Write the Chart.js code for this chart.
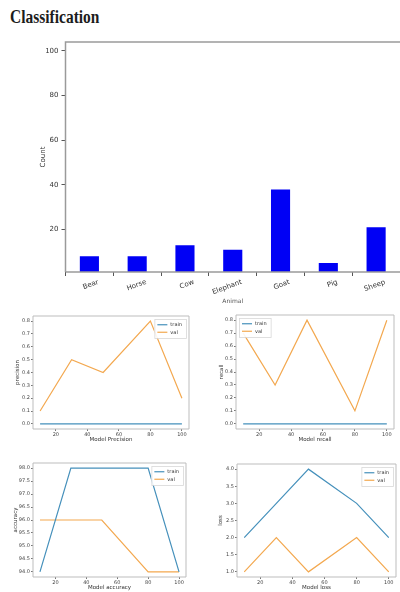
<!DOCTYPE html>
<html><head><meta charset="utf-8">
<script src="https://cdn.jsdelivr.net/npm/chart.js@4/dist/chart.umd.min.js"></script>
<style>
html,body{margin:0;padding:0;background:#fff;width:400px;height:592px;overflow:hidden;position:relative}
#title{position:absolute;left:10px;top:8px;font-family:"Liberation Serif",serif;font-weight:bold;font-size:18px;line-height:18px;color:#1c1c1c;white-space:nowrap;transform:scaleX(0.86);transform-origin:0 0}
canvas{position:absolute}
</style></head><body>
<div id="title">Classification</div>
<canvas id="bar" width="400" height="280" style="left:0;top:30px"></canvas>
<canvas id="c1" width="200" height="150" style="left:0;top:300px"></canvas>
<canvas id="c2" width="200" height="150" style="left:200px;top:300px"></canvas>
<canvas id="c3" width="200" height="142" style="left:0;top:450px"></canvas>
<canvas id="c4" width="200" height="142" style="left:200px;top:450px"></canvas>
<script>
// ---- data ----
const animals = ['Bear','Horse','Cow','Elephant','Goat','Pig','Sheep'];
const counts = [8, 8, 13, 11, 38, 5, 21];
const countTicks = [20, 40, 60, 80, 100];

const epochs = [10, 30, 50, 80, 100];
const epochTicks = [20, 40, 60, 80, 100];

const precisionTrain = [0, 0, 0, 0, 0];
const precisionVal = [0.1, 0.5, 0.4, 0.8, 0.2];
const recallTrain = [0, 0, 0, 0, 0];
const recallVal = [0.7, 0.3, 0.8, 0.1, 0.8];
const accuracyTrain = [94, 98, 98, 98, 94];
const accuracyVal = [96, 96, 96, 94, 94];
const lossTrain = [2, 3, 4, 3, 2];
const lossVal = [1, 2, 1, 2, 1];

const ratioTicks = [0, 0.1, 0.2, 0.3, 0.4, 0.5, 0.6, 0.7, 0.8];
const accuracyTicks = [94, 94.5, 95, 95.5, 96, 96.5, 97, 97.5, 98];
const lossTicks = [1, 1.5, 2, 2.5, 3, 3.5, 4];

// ---- styling ----
const TRAIN = '#4590bb';
const VAL = '#f3a84f';
const FONT = '"DejaVu Sans", sans-serif';
Chart.defaults.font.family = FONT;

const framePlugin = {
  id: 'frame',
  afterDatasetsDraw(chart, args, opts) {
    const a = chart.chartArea, ctx = chart.ctx;
    ctx.save();
    ctx.strokeStyle = opts.color || '#bbb';
    ctx.lineWidth = opts.width || 1;
    ctx.beginPath();
    ctx.moveTo(a.left, a.bottom);
    ctx.lineTo(a.left, a.top);
    ctx.lineTo(a.right, a.top);
    if (opts.right !== false) ctx.lineTo(a.right, a.bottom);
    ctx.moveTo(a.left, a.bottom);
    ctx.lineTo(a.right, a.bottom);
    ctx.stroke();
    ctx.restore();
  }
};

const legendPlugin = {
  id: 'insideLegend',
  afterDraw(chart, args, opts) {
    if (!opts || !opts.corner) return;
    const ctx = chart.ctx, a = chart.chartArea, ds = chart.data.datasets;
    const size = opts.size || 5;
    ctx.save();
    ctx.font = size + 'px ' + FONT;
    const lh = size * 1.5, sw = 10;
    const tw = Math.max(...ds.map(d => ctx.measureText(d.label).width));
    const w = 3 + sw + 3 + tw + 4, h = ds.length * lh + 4;
    const x = opts.corner === 'ne' ? a.right - 3 - w : a.left + 3;
    const y = a.top + 3;
    ctx.fillStyle = 'rgba(255,255,255,0.9)';
    ctx.fillRect(x, y, w, h);
    ctx.strokeStyle = '#d8d8d8';
    ctx.lineWidth = 0.8;
    ctx.strokeRect(x + 0.5, y + 0.5, w, h);
    ds.forEach((d, i) => {
      const cy = y + 2 + lh * (i + 0.5);
      ctx.strokeStyle = d.borderColor;
      ctx.lineWidth = d.borderWidth;
      ctx.beginPath();
      ctx.moveTo(x + 3, cy);
      ctx.lineTo(x + 3 + sw, cy);
      ctx.stroke();
      ctx.fillStyle = '#333';
      ctx.textBaseline = 'middle';
      ctx.fillText(d.label, x + 6 + sw, cy);
    });
    ctx.restore();
  }
};

// ---- bar chart ----
new Chart(document.getElementById('bar'), {
  type: 'bar',
  data: {
    labels: animals,
    datasets: [{ data: counts, backgroundColor: '#0000f5', barPercentage: 0.4, categoryPercentage: 1 }]
  },
  options: {
    responsive: false, animation: false, devicePixelRatio: 1,
    layout: { padding: { left: 39, right: 0, top: 12, bottom: 5 } },
    plugins: { legend: { display: false }, tooltip: { enabled: false }, frame: { color: '#9a9a9a', width: 1.5, right: false } },
    scales: {
      x: {
        grid: { drawOnChartArea: false, drawTicks: true, tickLength: 4, color: '#555' },
        border: { display: false },
        ticks: { minRotation: 20, maxRotation: 20, font: { size: 7 }, color: '#333', labelOffset: 9, padding: 2, autoSkip: false },
        title: { display: true, text: 'Animal', font: { size: 6 }, color: '#555', padding: 0 },
        afterFit: s => { s.height = 33; }
      },
      y: {
        min: 1, max: 104,
        afterBuildTicks: s => { s.ticks = countTicks.map(v => ({ value: v })); },
        afterFit: s => { s.width = 26.5; },
        grid: { drawOnChartArea: false, drawTicks: true, tickLength: 4, color: '#555' },
        border: { display: false },
        ticks: { font: { size: 7 }, color: '#333', padding: 3, autoSkip: false },
        title: { display: true, text: 'Count', font: { size: 7 }, color: '#333', padding: 0 }
      }
    }
  },
  plugins: [framePlugin]
});

// ---- line charts ----
function lineChart(id, g, xTitle, yTitle, train, val, yMin, yMax, yTicks, corner) {
  const c = document.getElementById(id);
  const W = c.width, H = c.height;
  const titleLH = 6.6;
  const pl = g.yTitleX - titleLH / 2;
  const yw = g.l - pl;
  const xh = (g.xTitleY + titleLH / 2) - g.b;
  const pb = H - g.b - xh;
  new Chart(c, {
    type: 'line',
    data: {
      datasets: [
        { label: 'train', data: epochs.map((x, i) => ({ x, y: train[i] })), borderColor: TRAIN, borderWidth: 1.2, pointRadius: 0, tension: 0, fill: false },
        { label: 'val', data: epochs.map((x, i) => ({ x, y: val[i] })), borderColor: VAL, borderWidth: 1.2, pointRadius: 0, tension: 0, fill: false }
      ]
    },
    options: {
      responsive: false, animation: false, devicePixelRatio: 1,
      layout: { padding: { left: pl, right: W - g.r, top: g.t, bottom: pb } },
      plugins: { legend: { display: false }, tooltip: { enabled: false }, frame: { color: '#bdbdbd', width: 1 }, insideLegend: { corner: corner, size: 5 } },
      scales: {
        x: {
          type: 'linear', min: 5.5, max: 104.5,
          afterBuildTicks: s => { s.ticks = epochTicks.map(v => ({ value: v })); },
          afterFit: s => { s.height = xh; },
          grid: { drawOnChartArea: false, drawTicks: true, tickLength: 2, color: '#777' },
          border: { display: false },
          ticks: { font: { size: 5 }, color: '#444', padding: 1, maxRotation: 0, autoSkip: false, callback: v => String(v) },
          title: { display: true, text: xTitle, font: { size: 5.5 }, color: '#333', padding: 0 }
        },
        y: {
          min: yMin, max: yMax,
          afterBuildTicks: s => { s.ticks = yTicks.map(v => ({ value: v })); },
          afterFit: s => { s.width = yw; },
          grid: { drawOnChartArea: false, drawTicks: true, tickLength: 2, color: '#777' },
          border: { display: false },
          ticks: { font: { size: 5 }, color: '#444', padding: 1, autoSkip: false, callback: v => Number(v).toFixed(1) },
          title: { display: true, text: yTitle, font: { size: 5.5 }, color: '#333', padding: 0 }
        }
      }
    },
    plugins: [framePlugin, legendPlugin]
  });
}

lineChart('c1', { l: 33, t: 16, r: 189, b: 129, xTitleY: 140, yTitleX: 18 }, 'Model Precision', 'precision', precisionTrain, precisionVal, -0.04, 0.84, ratioTicks, 'ne');
lineChart('c2', { l: 36, t: 15, r: 194, b: 129, xTitleY: 140, yTitleX: 22 }, 'Model recall', 'recall', recallTrain, recallVal, -0.04, 0.84, ratioTicks, 'nw');
lineChart('c3', { l: 33, t: 13, r: 186, b: 127, xTitleY: 137.3, yTitleX: 16 }, 'Model accuracy', 'accuracy', accuracyTrain, accuracyVal, 93.8, 98.2, accuracyTicks, 'ne');
lineChart('c4', { l: 37, t: 14, r: 196, b: 127, xTitleY: 137.3, yTitleX: 21 }, 'Model loss', 'loss', lossTrain, lossVal, 0.85, 4.15, lossTicks, 'ne');
</script>
</body></html>
